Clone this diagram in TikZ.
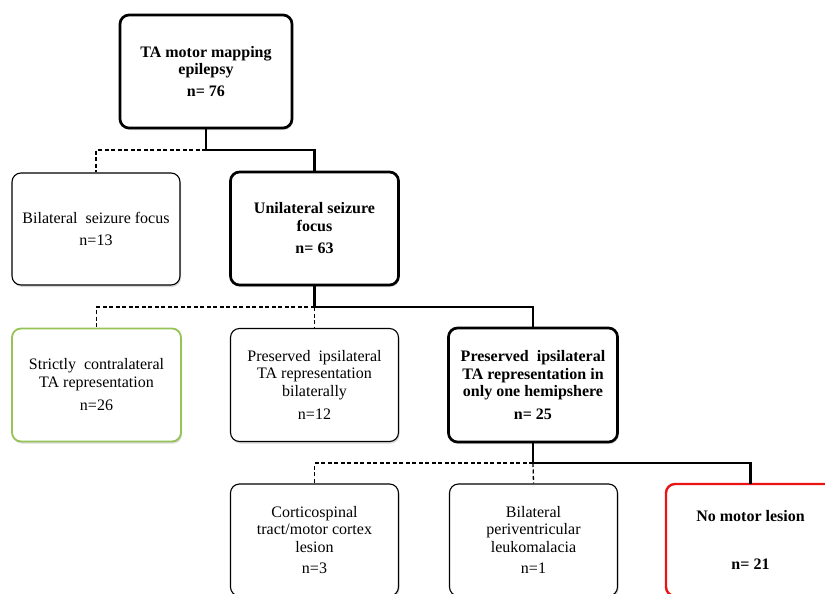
\documentclass[tikz,border=0pt]{standalone}
\usepackage{fontspec}
\setmainfont{Liberation Serif}
\usetikzlibrary{shadows}
\definecolor{boxgreen}{RGB}{150,195,85}
\definecolor{boxred}{RGB}{235,20,20}
\tikzset{
  box/.style={draw=black, line width=1.1pt, rounded corners=9pt, fill=white,
    align=center, inner sep=0pt, minimum width=168pt, minimum height=112pt,
    font=\fontsize{16}{17.5}\selectfont,
    drop shadow={opacity=0.3, shadow xshift=1pt, shadow yshift=-2pt}},
  thickbox/.style={box, line width=2.7pt, font=\fontsize{16}{17.5}\selectfont\bfseries},
  greenbox/.style={box, draw=boxgreen, line width=1.8pt},
  redbox/.style={box, draw=boxred, line width=2.4pt, font=\fontsize{16}{17.5}\selectfont\bfseries},
  conn/.style={line width=2.4pt, line cap=rect},
  dconn/.style={line width=1.3pt, dash pattern=on 4pt off 2.5pt},
}
\begin{document}
\begin{tikzpicture}[x=1pt,y=-1pt]
\useasboundingbox (0,0) rectangle (825,594);
% nodes
\node[thickbox] (top) at (206,71.5) [minimum width=172pt, minimum height=113pt]
  {TA motor mapping\\epilepsy\\[4pt]n= 76};
\node[box] (bil) at (96,229) {Bilateral\ \ seizure focus\\[4pt]n=13};
\node[thickbox] (uni) at (314.5,228.5) [minimum height=113pt]
  {Unilateral seizure\\focus\\[5pt]n= 63};
\node[greenbox] (con) at (96.5,385) [minimum width=169pt, minimum height=113pt]
  {Strictly\ \ contralateral\\TA representation\\[6pt]n=26};
\node[box] (bilat) at (314.5,385) [minimum height=113pt]
  {Preserved\ \ ipsilateral\\TA representation\\bilaterally\\[6pt]n=12};
\node[thickbox] (one) at (533,385) [minimum width=169pt, minimum height=114pt]
  {Preserved\ \ ipsilateral\\TA representation in\\only one hemipshere\\[5pt]n= 25};
\node[box] (cort) at (314.5,540) 
  {Corticospinal\\tract/motor cortex\\lesion\\[4pt]n=3};
\node[box] (periv) at (533.5,540)
  {Bilateral\\periventricular\\leukomalacia\\[4pt]n=1};
\node[redbox] (nomo) at (750.5,540) [minimum width=169pt]
  {No motor lesion\\[30pt]n= 21};
% connectors level 1
\coordinate (j1) at (206,150);
\draw[dconn] (j1) -| (bil.north);
\draw[conn] (top.south) -- (j1) -| (uni.north);
% level 2
\coordinate (j2) at (314.5,307);
\draw[dconn] (j2) -| (con.north);
\draw[dconn] (j2) -- (bilat.north);
\draw[conn] (uni.south) -- (j2) -| (one.north);
% level 3
\coordinate (j3) at (533,463);
\draw[dconn] (j3) -| (cort.north);
\draw[dconn] (j3) -- (periv.north);
\draw[conn] (one.south) -- (j3) -| (nomo.north);
\end{tikzpicture}
\end{document}
